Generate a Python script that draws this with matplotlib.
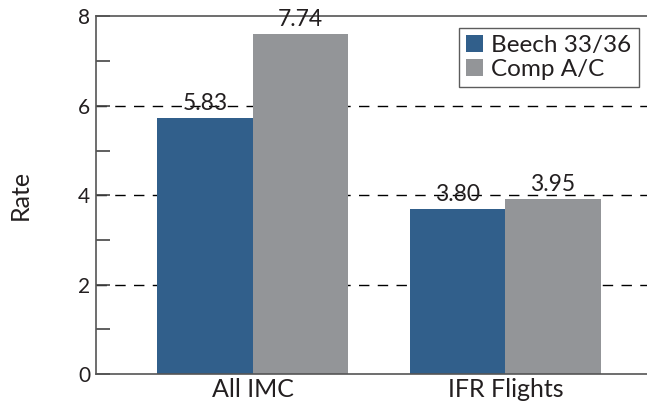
import numpy as np
import matplotlib
matplotlib.use("Agg")
import matplotlib.pyplot as plt
from matplotlib.ticker import MultipleLocator

plt.rcParams["font.family"] = ["Lato", "DejaVu Sans"]

categories = ["All IMC", "IFR Flights"]
series_names = ["Beech 33/36", "Comp A/C"]
beech_values = [5.83, 3.80]
comp_values = [7.74, 3.95]
# bar tops as drawn in the picture (a little under the printed values)
beech_heights = [5.72, 3.69]
comp_heights = [7.60, 3.91]

blue = "#315f8b"
gray = "#939598"
text_col = "#231f20"

fig = plt.figure(figsize=(6.47, 4.08), dpi=100)
ax = fig.add_axes([0.148, 0.083, 0.852, 0.877])

x = np.arange(len(categories))
w = 0.377
b1 = ax.bar(x - w / 2, beech_heights, w, color=blue, label=series_names[0], zorder=2)
b2 = ax.bar(x + w / 2, comp_heights, w, color=gray, label=series_names[1], zorder=2)

for bars, vals in [(b1, beech_values), (b2, comp_values)]:
    for rect, v in zip(bars, vals):
        ax.annotate(f"{v:.2f}", (rect.get_x() + rect.get_width() / 2, rect.get_height()),
                    xytext=(0, 3), textcoords="offset points", ha="center", va="bottom",
                    fontsize=16.5, color=text_col, zorder=3)

for yv in [2, 4, 6]:
    ax.axhline(yv, color="black", lw=1, dashes=(7.5, 6), zorder=1)

ax.set_xlim(-0.62, 1.56)
ax.set_ylim(0, 8)
ax.set_xticks(x)
ax.set_xticklabels(categories, fontsize=18, color=text_col)
ax.yaxis.set_major_locator(MultipleLocator(2))
ax.yaxis.set_minor_locator(MultipleLocator(1))
ax.tick_params(axis="y", which="both", direction="in", length=10, width=1.2,
               color="#444444", labelsize=15, labelcolor=text_col, pad=4)
ax.tick_params(axis="x", length=0, pad=3)
ax.set_ylabel("Rate", fontsize=18, color=text_col, labelpad=33)

ax.spines["right"].set_visible(False)
for s in ["left", "top", "bottom"]:
    ax.spines[s].set_color("#555555")
    ax.spines[s].set_linewidth(1.2)

leg = ax.legend(loc="upper right", bbox_to_anchor=(0.985, 0.967), fontsize=17.5,
                frameon=True, fancybox=False, handlelength=0.7, handleheight=0.7,
                handletextpad=0.35, borderpad=0.3, labelspacing=0.1, borderaxespad=0)
leg.get_frame().set_edgecolor("#333333")
leg.get_frame().set_linewidth(1)
for t in leg.get_texts():
    t.set_color(text_col)

fig.savefig("out.png", dpi=100)
